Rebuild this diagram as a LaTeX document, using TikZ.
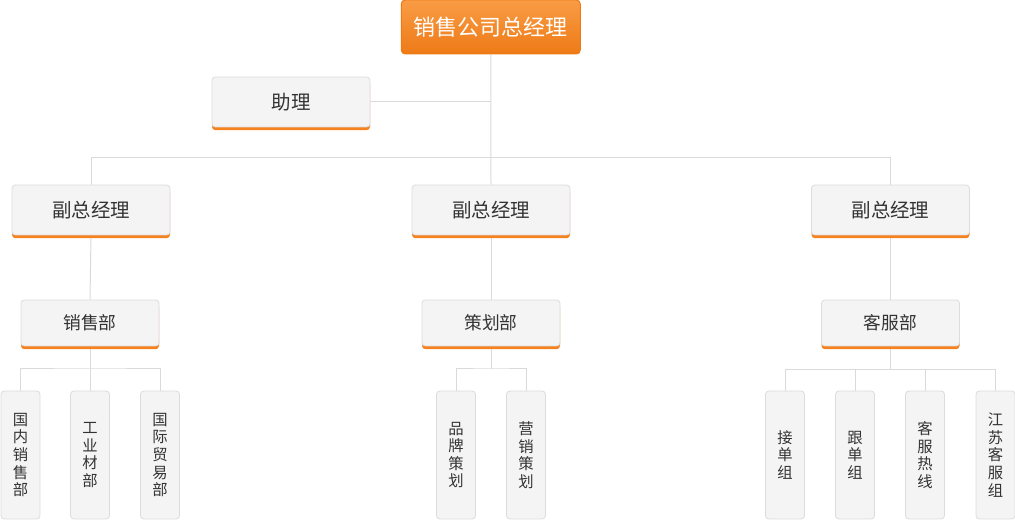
\documentclass[tikz,border=0pt]{standalone}
\usepackage{fontspec}
\setmainfont{Noto Sans CJK SC}
\usetikzlibrary{shadows,backgrounds}
\definecolor{org}{HTML}{F5821F}
\definecolor{orgL}{HTML}{F99C45}
\definecolor{orgD}{HTML}{EE7A16}
\definecolor{boxfill}{HTML}{F4F4F4}
\definecolor{boxline}{HTML}{DCDCDC}
\definecolor{conn}{HTML}{DADADA}
\definecolor{txt}{HTML}{333333}
\tikzset{
  px/.style={x=0.75pt,y=-0.75pt},
  topbox/.style={draw=orgD, line width=0.75pt, rounded corners=3pt, top color=orgL, bottom color=orgD,
    minimum width=134.25pt, minimum height=40.5pt, text=white, font=\fontsize{16.5}{18}\selectfont, inner sep=0pt},
  greybox/.style={draw=boxline, line width=0.6pt, fill=boxfill, rounded corners=2.5pt, text=txt,
    general shadow={fill=org, shadow yshift=-2.4pt}, inner sep=0pt},
  vpbox/.style={greybox, minimum width=118.5pt, minimum height=37.5pt, font=\fontsize{14.6}{16}\selectfont},
  deptbox/.style={greybox, minimum width=103.5pt, minimum height=34.5pt, font=\fontsize{13.3}{15}\selectfont},
  leafbox/.style={draw=boxline, line width=0.6pt, fill=boxfill, rounded corners=2.5pt, text=txt,
    minimum width=29.25pt, minimum height=96pt, inner sep=0pt, align=center,
    font=\fontsize{11.5}{13.2}\selectfont},
  conline/.style={draw=conn, line width=0.75pt}
}
\begin{document}
\begin{tikzpicture}[px]
\useasboundingbox (0,0) rectangle (1015,520);
% nodes
\node[topbox] (top) at (490.75,27) {销售公司总经理};
\node[vpbox] (asst) at (291,102) {助理};
\node[vpbox] (vp1) at (91,210) {副总经理};
\node[vpbox] (vp2) at (491,210) {副总经理};
\node[vpbox] (vp3) at (890.5,210) {副总经理};
\node[deptbox] (d1) at (90,323) {销售部};
\node[deptbox] (d2) at (491,323) {策划部};
\node[deptbox] (d3) at (890.5,323) {客服部};
\node[leafbox] (l1) at (20.5,455) {国\\内\\销\\售\\部};
\node[leafbox] (l2) at (90,455) {工\\业\\材\\部};
\node[leafbox] (l3) at (160,455) {国\\际\\贸\\易\\部};
\node[leafbox] (m1) at (456,455) {品\\牌\\策\\划};
\node[leafbox] (m2) at (526,455) {营\\销\\策\\划};
\node[leafbox] (r1) at (785,455) {接\\单\\组};
\node[leafbox] (r2) at (855,455) {跟\\单\\组};
\node[leafbox] (r3) at (925,455) {客\\服\\热\\线};
\node[leafbox] (r4) at (995.5,455) {江\\苏\\客\\服\\组};
\coordinate (bar) at (491,157.5);
\coordinate (b1) at (90,369);
\coordinate (b2) at (491,369);
\coordinate (b3) at (890.5,369.5);
% connectors
\begin{scope}[on background layer]
\draw[conline] (top.south) -- (vp2.north);
\draw[conline] (asst.east) -- (asst.east -| top.south);
\draw[conline] (vp1.north) |- (bar) -| (vp3.north);
\draw[conline] (vp1.south) -- (d1.north);
\draw[conline] (vp2.south) -- (d2.north);
\draw[conline] (vp3.south) -- (d3.north);
\draw[conline] (d1.south) -- (l2.north);
\draw[conline] (l1.north) |- (b1) -| (l3.north);
\draw[conline] (d2.south) -- (b2);
\draw[conline] (m1.north) |- (b2) -| (m2.north);
\draw[conline] (d3.south) -- (b3);
\draw[conline] (r1.north) |- (b3) -| (r4.north);
\draw[conline] (r2.north) -- (r2.north |- b3);
\draw[conline] (r3.north) -- (r3.north |- b3);
\end{scope}
\end{tikzpicture}
\end{document}
